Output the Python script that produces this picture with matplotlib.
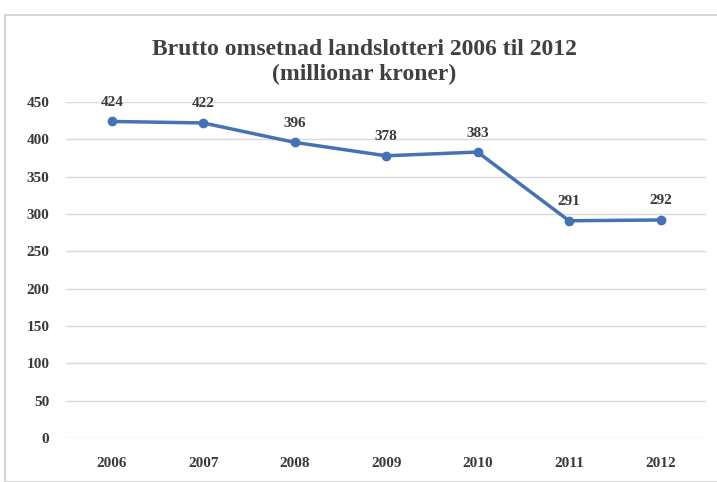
import matplotlib.pyplot as plt
from matplotlib.patches import Rectangle

years = ['2006', '2007', '2008', '2009', '2010', '2011', '2012']
omsetnad = [424, 422, 396, 378, 383, 291, 292]
y_ticks = [0, 50, 100, 150, 200, 250, 300, 350, 400, 450]

plt.rcParams['font.family'] = ['Liberation Serif', 'DejaVu Serif']

fig = plt.figure(figsize=(7.17, 4.82), dpi=100)
fig.patches.append(Rectangle((5 / 717, 0.0), 1.0, 1 - 15 / 482, transform=fig.transFigure,
                             fill=False, edgecolor='#d0d0d0', linewidth=1.2))

ax = fig.add_axes([0.092, 0.0913, 0.893, 0.697])
x = range(len(years))
ax.plot(x, omsetnad, color='#4472b4', linewidth=2.5, marker='o', markersize=6,
        markerfacecolor='#4472b4', markeredgecolor='#4472b4', zorder=3)
for xi, v in zip(x, omsetnad):
    ax.annotate(str(v), (xi, v), xytext=(0, 9), textcoords='offset points',
                ha='center', va='bottom', fontsize=11, fontweight='bold', color='#3a3a3a')

ax.set_xlim(-0.5, len(years) - 0.5)
ax.set_ylim(0, 450)
ax.set_yticks(y_ticks)
ax.set_xticks(list(x))
ax.set_xticklabels(years)
ax.grid(axis='y', color='#d9d9d9', linewidth=1)
ax.set_axisbelow(True)
for s in ax.spines.values():
    s.set_visible(False)
ax.tick_params(length=0, labelsize=11, labelcolor='#3a3a3a')
for lab in ax.get_xticklabels() + ax.get_yticklabels():
    lab.set_fontweight('bold')
ax.tick_params(axis='x', pad=14)
ax.tick_params(axis='y', pad=12)

fig.text(0.508, 0.872, 'Brutto omsetnad landslotteri 2006 til 2012\n(millionar kroner)',
         ha='center', va='center', fontsize=17, fontweight='bold', color='#404040',
         linespacing=1.25)

fig.savefig('out.png', dpi=100)
